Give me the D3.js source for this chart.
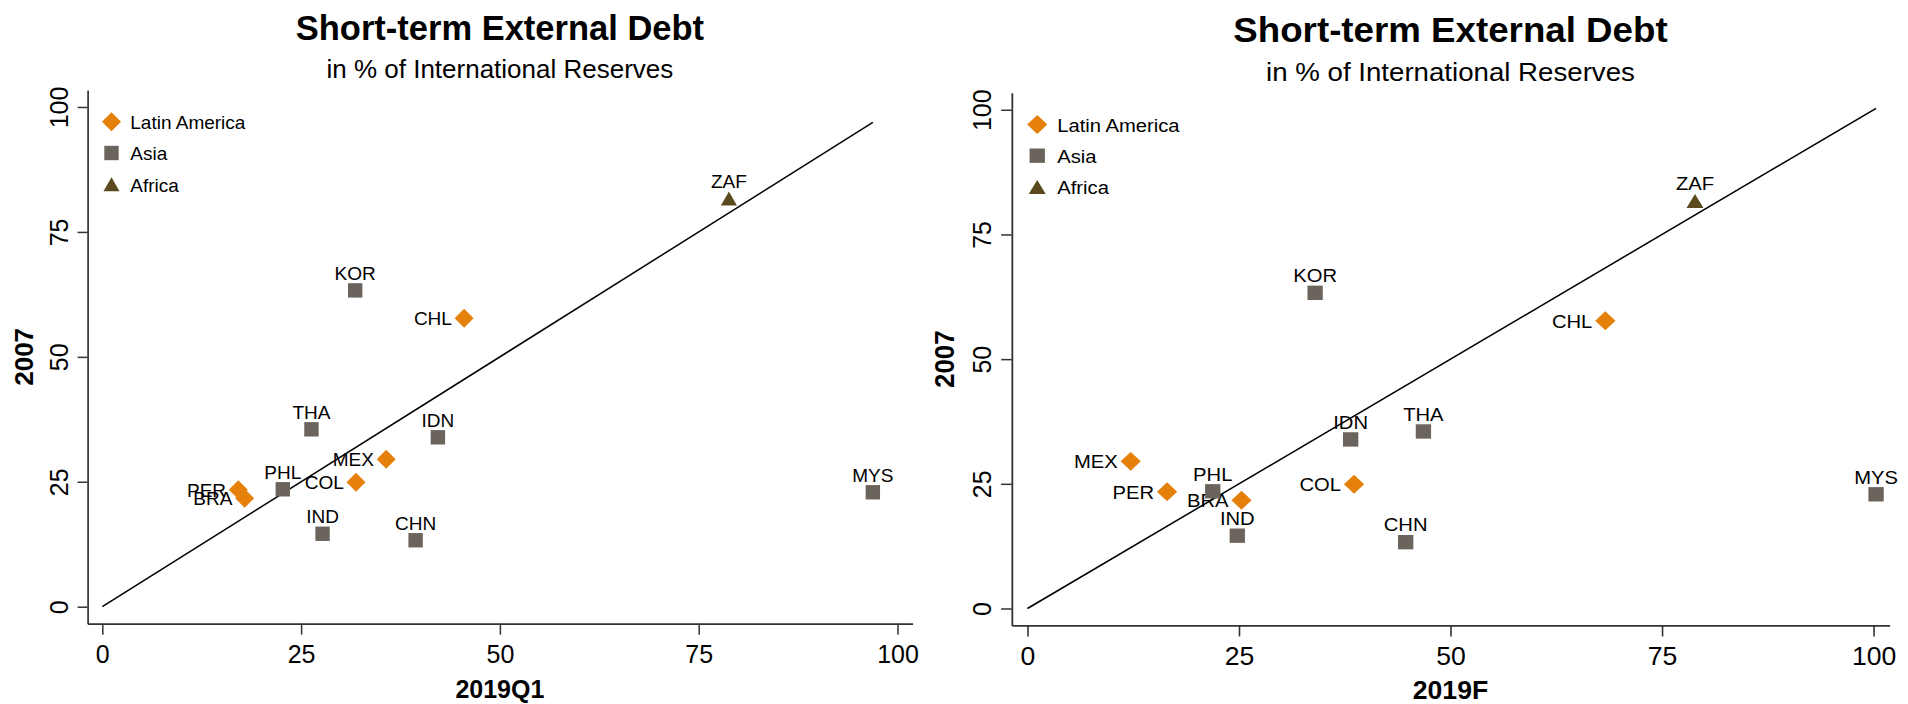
<!DOCTYPE html>
<html>
<head>
<meta charset="utf-8">
<script src="https://cdn.jsdelivr.net/npm/d3@7"></script>
<style>
  html, body { margin: 0; padding: 0; background: #fff; }
  svg { display: block; }
  text { font-family: "Liberation Sans", Arial, Helvetica, sans-serif; fill: #000; }
</style>
</head>
<body>
<svg id="chart" width="1908" height="704"></svg>
<script>
// ---- Data ----
const countries = ["ZAF","KOR","CHL","THA","IDN","MEX","PHL","COL","PER","BRA","IND","CHN","MYS"];
const regions   = ["Africa","Asia","Latin America","Asia","Asia","Latin America","Asia","Latin America","Latin America","Latin America","Asia","Asia","Asia"];
const debt2007   = [81.7, 63.3, 57.7, 35.5, 33.9, 29.5, 23.5, 24.9, 23.4, 21.7, 14.6, 13.3, 22.9];
const debt2019Q1 = [78.8, 31.8, 45.5, 26.3, 42.2, 35.7, 22.7, 31.9, 17.1, 17.9, 27.7, 39.4, 96.9];
const debt2019F  = [78.9, 34.0, 68.3, 46.8, 38.2, 12.2, 21.9, 38.6, 16.5, 25.3, 24.8, 44.7, 100.3];
const legendItems = ["Latin America", "Asia", "Africa"];
const axisTicks = [0, 25, 50, 75, 100];
const titleText = "Short-term External Debt";
const subtitleText = "in % of International Reserves";
const yTitle = "2007";
const xTitles = ["2019Q1", "2019F"];

// ---- Styles ----
const regionColor = { "Latin America": "#E5800A", "Asia": "#6B645C", "Africa": "#5B4A1E" };
const symbolPath = {
  "Latin America": "M0,-9.5L9.5,0L0,9.5L-9.5,0Z",
  "Asia": "M-7.2,-7.2H7.2V7.2H-7.2Z",
  "Africa": "M0,-7L8,7L-8,7Z"
};

const svg = d3.select("#chart");

function drawPanel(xValues, xTitle, transform) {
  const g = svg.append("g").attr("transform", transform);

  const x = d3.scaleLinear().domain([-1.85, 101.9]).range([87.6, 912.6]);
  const y = d3.scaleLinear().domain([-3.4, 103.4]).range([623.7, 90]);

  // Titles
  g.append("text").attr("x", x(50)).attr("y", 39.5)
    .attr("text-anchor", "middle").style("font-size", "34.5px").style("font-weight", "bold")
    .text(titleText);
  g.append("text").attr("x", x(50)).attr("y", 78)
    .attr("text-anchor", "middle").style("font-size", "26px")
    .text(subtitleText);

  // Axes
  const xAxis = g.append("g").attr("transform", `translate(0,${y.range()[0]})`)
    .call(d3.axisBottom(x).tickValues(axisTicks).tickSize(11).tickSizeOuter(0));
  const yAxis = g.append("g").attr("transform", `translate(${x.range()[0]},0)`)
    .call(d3.axisLeft(y).tickValues(axisTicks).tickSize(10).tickSizeOuter(0));

  [xAxis, yAxis].forEach(a => {
    a.select(".domain").attr("stroke", "#333").attr("stroke-width", 1.7);
    a.selectAll(".tick line").attr("stroke", "#333").attr("stroke-width", 1.5);
    a.selectAll(".tick text").attr("fill", "#000").style("font-size", "25px")
      .style("font-family", "'Liberation Sans', Arial, sans-serif");
  });
  xAxis.selectAll(".tick text").attr("dy", null).attr("y", 39.8);
  yAxis.selectAll(".tick text").attr("dy", null).attr("x", null)
    .attr("text-anchor", "middle")
    .attr("transform", "translate(-19.3,0) rotate(-90)");

  // Axis titles
  g.append("text").attr("x", x(50)).attr("y", 697.5)
    .attr("text-anchor", "middle").style("font-size", "25px").style("font-weight", "bold")
    .text(xTitle);
  g.append("text").attr("transform", `translate(33.3,${y(50)}) rotate(-90)`)
    .attr("text-anchor", "middle").style("font-size", "26px").style("font-weight", "bold")
    .text(yTitle);

  // 45-degree line
  const maxX = d3.max(xValues);
  g.append("line")
    .attr("x1", x(0)).attr("y1", y(0))
    .attr("x2", x(maxX)).attr("y2", y(maxX))
    .attr("stroke", "#000").attr("stroke-width", 1.5);

  // Points
  const pts = countries.map((c, i) => ({ c, r: regions[i], xv: xValues[i], yv: debt2007[i] }));
  const order = ["Latin America", "Asia", "Africa"];
  order.forEach(reg => {
    const sub = pts.filter(p => p.r === reg);
    g.selectAll(null).data(sub).enter().append("path")
      .attr("d", symbolPath[reg])
      .attr("transform", p => `translate(${x(p.xv)},${y(p.yv)})`)
      .attr("fill", regionColor[reg]);
    g.selectAll(null).data(sub).enter().append("text")
      .attr("x", p => reg === "Latin America" ? x(p.xv) - 12.2 : x(p.xv))
      .attr("y", p => reg === "Latin America" ? y(p.yv) + 7 : y(p.yv) - 10.7)
      .attr("text-anchor", reg === "Latin America" ? "end" : "middle")
      .style("font-size", "19px")
      .text(p => p.c);
  });

  // Legend
  legendItems.forEach((item, i) => {
    const cy = 121.7 + i * 31.3;
    g.append("path").attr("d", symbolPath[item])
      .attr("transform", `translate(111.5,${cy})`)
      .attr("fill", regionColor[item]);
    g.append("text").attr("x", 130.3).attr("y", cy + 7.3)
      .style("font-size", "19px").text(item);
  });
}

drawPanel(debt2019Q1, xTitles[0], "translate(0,0)");
drawPanel(debt2019F, xTitles[1], "translate(918.6,3) scale(1.064,0.998)");
</script>
</body>
</html>
